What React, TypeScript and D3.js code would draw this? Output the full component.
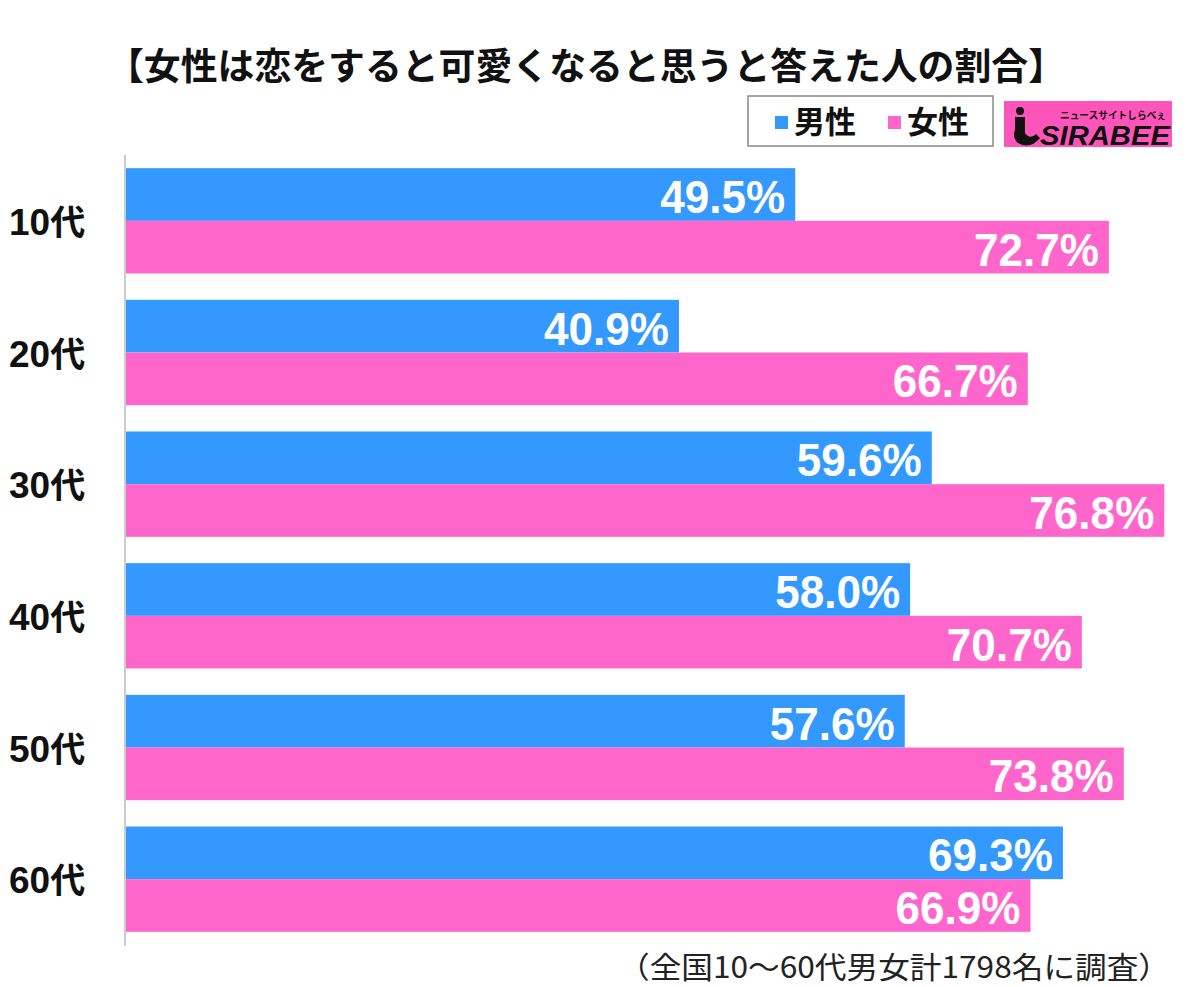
import React from "react";
import * as d3 from "d3";

const categories = ["10代", "20代", "30代", "40代", "50代", "60代"];
const seriesNames = ["男性", "女性"];
const maleValues = [49.5, 40.9, 59.6, 58.0, 57.6, 69.3];
const femaleValues = [72.7, 66.7, 76.8, 70.7, 73.8, 66.9];
const colors = ["#3399FF", "#FF66CC"];
const title = "【女性は恋をすると可愛くなると思うと答えた人の割合】";
const footnote = "（全国10～60代男女計1798名に調査）";

const W = 1200;
const H = 987;
const JP = "'Noto Sans CJK JP', 'Noto Sans', sans-serif";
const NUM = "'Liberation Sans', Arial, sans-serif";

export default function App() {
  const x = d3.scaleLinear().domain([0, 100]).range([126, 126 + 1352]);
  const yBand = d3
    .scaleBand<string>()
    .domain(categories)
    .range([155, 945])
    .paddingInner(0.2)
    .paddingOuter(0.1);
  const inner = d3.scaleBand<number>().domain([0, 1]).range([0, yBand.bandwidth()]);
  const series = [maleValues, femaleValues];

  return (
    <svg width={W} height={H} style={{ position: "absolute", left: 0, top: 0, background: "#fff" }}>
      <rect x={0} y={0} width={W} height={H} fill="#fff" />
      <text x={107} y={80} fontFamily={JP} fontWeight={700} fontSize={37} fill="#111" textLength={958} lengthAdjust="spacingAndGlyphs">
        {title}
      </text>

      {/* legend */}
      <rect x={748} y={96} width={245} height={50} fill="#fff" stroke="#888" strokeWidth={1.5} />
      <rect x={775} y={116} width={13} height={13} fill={colors[0]} />
      <text x={794} y={133} fontFamily={JP} fontWeight={700} fontSize={31} fill="#111">{seriesNames[0]}</text>
      <rect x={888} y={116} width={13} height={13} fill={colors[1]} />
      <text x={907} y={133} fontFamily={JP} fontWeight={700} fontSize={31} fill="#111">{seriesNames[1]}</text>

      {/* logo */}
      <g>
        <rect x={1004} y={101} width={168} height={46} fill="#FF55BB" />
        <circle cx={1020} cy={111} r={4} fill="#111" />
        <path d="M1015 117 L1025 117 L1025 133 Q1030 140 1036 134 L1040 138 Q1030 150 1018 143 Q1012 138 1015 130 Z" fill="#111" />
        <text x={1060} y={119} fontFamily={JP} fontWeight={700} fontSize={10} fill="#111" textLength={106} lengthAdjust="spacingAndGlyphs">ニュースサイトしらべぇ</text>
        <text x={1040} y={145} fontFamily={NUM} fontWeight={700} fontStyle="italic" fontSize={27} fill="#111" textLength={130} lengthAdjust="spacingAndGlyphs">SIRABEE</text>
      </g>

      {/* axis line */}
      <line x1={125} x2={125} y1={155} y2={946} stroke="#ccc" strokeWidth={2} />

      {categories.map((c, i) => {
        const y0 = yBand(c)!;
        return (
          <g key={c}>
            <text x={9} y={y0 + yBand.bandwidth() / 2 + 14} fontFamily={NUM} fontWeight={700} fontSize={37} fill="#111">
              <tspan>{c.slice(0, 2)}</tspan>
              <tspan fontFamily={JP} fontSize={35}>{c.slice(2)}</tspan>
            </text>
            {series.map((vals, s) => {
              const v = vals[i];
              const by = y0 + inner(s)!;
              const bh = inner.bandwidth();
              return (
                <g key={s}>
                  <rect x={x(0)} y={by} width={x(v) - x(0)} height={bh} fill={colors[s]} />
                  <text
                    x={x(v) - 10}
                    y={by + bh * 0.85}
                    textAnchor="end"
                    fontFamily={NUM}
                    fontWeight={700}
                    fontSize={47}
                    fill="#fff"
                    textLength={125}
                    lengthAdjust="spacingAndGlyphs"
                  >
                    {v.toFixed(1)}%
                  </text>
                </g>
              );
            })}
          </g>
        );
      })}

      <text x={618} y={978} fontFamily={JP} fontWeight={400} fontSize={30} fill="#222" textLength={552} lengthAdjust="spacingAndGlyphs">
        {footnote}
      </text>
    </svg>
  );
}
